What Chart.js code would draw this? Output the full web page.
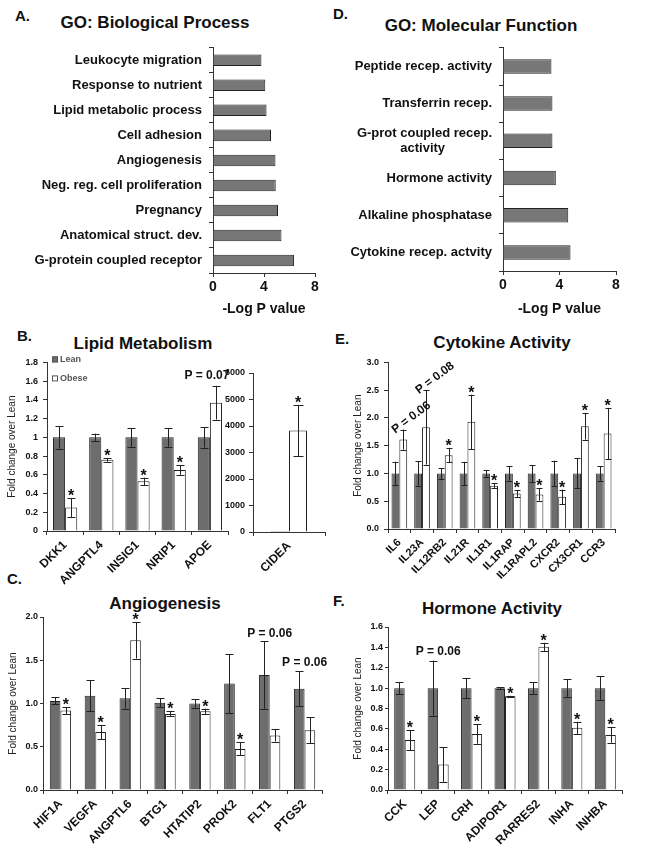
<!DOCTYPE html>
<html>
<head>
<meta charset="utf-8">
<script src="https://cdn.jsdelivr.net/npm/chart.js@4.4.1/dist/chart.umd.min.js"></script>
<style>
    body { margin: 0; background: #fff; width: 652px; height: 853px; position: relative; overflow: hidden;
           font-family: 'Liberation Sans', Arial, sans-serif; }
    canvas { position: absolute; }
    .txt { position: absolute; font-weight: bold; color: #111; white-space: nowrap; line-height: 1;
           transform: translate(-50%, -50%); }
    .tag { position: absolute; font-weight: bold; color: #111; font-size: 15px; line-height: 1; transform: translateY(-50%); }
</style>
</head>
<body>
<div class="tag" style="left:15px;top:15px">A.</div>
<div class="txt" style="left:155px;top:22px;font-size:17px">GO: Biological Process</div>
<div class="tag" style="left:333px;top:13px">D.</div>
<div class="txt" style="left:481px;top:25px;font-size:17px">GO: Molecular Function</div>
<div class="tag" style="left:17px;top:335px">B.</div>
<div class="txt" style="left:143px;top:343px;font-size:17px">Lipid Metabolism</div>
<div class="tag" style="left:335px;top:338px">E.</div>
<div class="txt" style="left:502px;top:342px;font-size:17px">Cytokine Activity</div>
<div class="tag" style="left:7px;top:578px">C.</div>
<div class="txt" style="left:165px;top:603px;font-size:17px">Angiogenesis</div>
<div class="tag" style="left:333px;top:600px">F.</div>
<div class="txt" style="left:492px;top:608px;font-size:17px">Hormone Activity</div>

<canvas id="chartA"></canvas>
<canvas id="chartD"></canvas>
<canvas id="chartC"></canvas>
<canvas id="chartF"></canvas>
<canvas id="chartB"></canvas>
<canvas id="chartB2"></canvas>
<canvas id="chartE"></canvas>

<script>
// ---- data ----
const bpTerms = ['Leukocyte migration', 'Response to nutrient', 'Lipid metabolic process', 'Cell adhesion',
    'Angiogenesis', 'Neg. reg. cell proliferation', 'Pregnancy', 'Anatomical struct. dev.', 'G-protein coupled receptor'];
const bpLogP = [3.8, 4.1, 4.2, 4.55, 4.9, 4.92, 5.1, 5.37, 6.35];

// second line padded so it sits centred under the first
const mfTerms = ['Peptide recep. activity', 'Transferrin recep.', ['G-prot coupled recep.', 'activity             '],
    'Hormone activity', 'Alkaline phosphatase', 'Cytokine recep. actvity'];
const mfLogP = [3.43, 3.5, 3.5, 3.74, 4.62, 4.78];

const lipidGenes = ['DKK1', 'ANGPTL4', 'INSIG1', 'NRIP1', 'APOE'];
const lipidLean = [1, 1, 1, 1, 1];
const lipidLeanErr = [0.12, 0.04, 0.1, 0.1, 0.11];
const lipidObese = [0.25, 0.76, 0.53, 0.65, 1.37];
const lipidObeseErr = [0.1, 0.02, 0.04, 0.05, 0.18];
const lipidStars = [true, true, true, true, false];

const cideaGenes = ['CIDEA'];
const cideaLean = [1];
const cideaLeanErr = [0];
const cideaObese = [3830];
const cideaObeseErr = [970];
const cideaStars = [true];

const cytoGenes = ['IL6', 'IL23A', 'IL12RB2', 'IL21R', 'IL1R1', 'IL1RAP', 'IL1RAPL2', 'CXCR2', 'CX3CR1', 'CCR3'];
const cytoLean = [1, 1, 1, 1, 1, 1, 1, 1, 1, 1];
const cytoLeanErr = [0.21, 0.22, 0.1, 0.21, 0.06, 0.13, 0.15, 0.23, 0.27, 0.13];
const cytoObese = [1.61, 1.83, 1.33, 1.93, 0.78, 0.64, 0.62, 0.58, 1.85, 1.72];
const cytoObeseErr = [0.18, 0.67, 0.13, 0.49, 0.04, 0.06, 0.11, 0.13, 0.24, 0.46];
const cytoStars = [false, false, true, true, true, true, true, true, true, true];

const angioGenes = ['HIF1A', 'VEGFA', 'ANGPTL6', 'BTG1', 'HTATIP2', 'PROK2', 'FLT1', 'PTGS2'];
const angioLean = [1.03, 1.09, 1.06, 1.01, 1.0, 1.23, 1.33, 1.17];
const angioLeanErr = [0.04, 0.18, 0.12, 0.05, 0.05, 0.34, 0.39, 0.2];
const angioObese = [0.92, 0.67, 1.73, 0.88, 0.91, 0.475, 0.63, 0.69];
const angioObeseErr = [0.04, 0.08, 0.21, 0.03, 0.03, 0.075, 0.07, 0.15];
const angioStars = [true, true, true, true, true, true, false, false];

const hormGenes = ['CCK', 'LEP', 'CRH', 'ADIPOR1', 'RARRES2', 'INHA', 'INHBA'];
const hormLean = [1, 1, 1, 1, 1, 1, 1];
const hormLeanErr = [0.06, 0.27, 0.1, 0.01, 0.06, 0.085, 0.115];
const hormObese = [0.49, 0.25, 0.55, 0.92, 1.405, 0.61, 0.54];
const hormObeseErr = [0.1, 0.17, 0.095, 0.005, 0.04, 0.06, 0.075];
const hormStars = [true, false, true, true, true, true, true];

// ---- style ----
const FONT = "'Liberation Sans', Arial, sans-serif";
const LEAN = '#6d6d6d';
const GO_FILL = '#777777';
const EDGE = '#222';
const AXIS = '#333';

Chart.defaults.font.family = FONT;
Chart.defaults.color = '#111';

// error bars + significance stars, drawn from each dataset's values
const errorBars = {
    id: 'errorBars',
    afterDatasetsDraw(chart, args, opts) {
        const ctx = chart.ctx;
        const y = chart.scales.y;
        const cap = opts.cap || 4;
        chart.data.datasets.forEach((ds, i) => {
            const meta = chart.getDatasetMeta(i);
            meta.data.forEach((bar, j) => {
                const e = ds.errors ? ds.errors[j] : 0;
                const v = ds.data[j];
                const top = y.getPixelForValue(v + e);
                if (e) {
                    const bot = y.getPixelForValue(v - e);
                    ctx.save();
                    ctx.strokeStyle = EDGE;
                    ctx.lineWidth = 1;
                    ctx.beginPath();
                    const x = Math.round(bar.x) + 0.5;
                    ctx.moveTo(x, top); ctx.lineTo(x, bot);
                    ctx.moveTo(x - cap, Math.round(top) + 0.5); ctx.lineTo(x + cap, Math.round(top) + 0.5);
                    ctx.moveTo(x - cap, Math.round(bot) + 0.5); ctx.lineTo(x + cap, Math.round(bot) + 0.5);
                    ctx.stroke();
                    ctx.restore();
                }
                if (ds.stars && ds.stars[j]) {
                    ctx.save();
                    ctx.fillStyle = '#111';
                    ctx.font = 'bold 16px ' + FONT;
                    ctx.textAlign = 'center';
                    ctx.textBaseline = 'alphabetic';
                    ctx.fillText('*', bar.x, top + 3);
                    ctx.restore();
                }
            });
        });
    }
};

// "P = ..." notes anchored on a bar's error top
const notes = {
    id: 'notes',
    afterDatasetsDraw(chart, args, opts) {
        const ctx = chart.ctx;
        (opts.items || []).forEach(n => {
            const ds = chart.data.datasets[n.ds];
            const bar = chart.getDatasetMeta(n.ds).data[n.i];
            const top = chart.scales.y.getPixelForValue(ds.data[n.i] + ds.errors[n.i]);
            const x = n.center ? chart.scales.x.getPixelForValue(n.i) : bar.x;
            ctx.save();
            ctx.translate(x + (n.dx || 0), top + (n.dy || 0));
            ctx.rotate((n.rot || 0) * Math.PI / 180);
            ctx.font = 'bold 12px ' + FONT;
            ctx.fillStyle = '#111';
            ctx.textAlign = 'center';
            ctx.textBaseline = n.rot ? 'middle' : 'alphabetic';
            ctx.fillText(n.text, 0, 0);
            ctx.restore();
        });
    }
};

// small stacked legend inside panel B
const boxLegend = {
    id: 'boxLegend',
    afterDraw(chart, args, opts) {
        if (!opts.show) return;
        const { ctx, chartArea } = chart;
        chart.data.datasets.forEach((ds, i) => {
            const x = chartArea.left + 5, yy = chartArea.top - 3 + i * 19;
            ctx.save();
            ctx.fillStyle = ds.backgroundColor;
            ctx.fillRect(x, yy - 3, 6, 6);
            ctx.strokeStyle = '#555';
            ctx.strokeRect(x + 0.5, yy - 2.5, 5, 5);
            ctx.fillStyle = '#555';
            ctx.font = 'bold 9px ' + FONT;
            ctx.textBaseline = 'middle';
            ctx.fillText(ds.label, x + 8, yy);
            ctx.restore();
        });
    }
};

function place(id, area, m) {
    const c = document.getElementById(id);
    c.width = area[2] - area[0] + m.l + m.r;
    c.height = area[3] - area[1] + m.t + m.b;
    c.style.left = (area[0] - m.l) + 'px';
    c.style.top = (area[1] - m.t) + 'px';
    return c;
}

function goChart(id, area, m, labels, values, bp) {
    return new Chart(place(id, area, m), {
        type: 'bar',
        data: { labels: labels, datasets: [{ data: values, backgroundColor: GO_FILL, borderColor: EDGE, borderWidth: 1 }] },
        options: {
            indexAxis: 'y', responsive: false, animation: false,
            layout: { padding: { left: 0, top: m.t, right: m.r, bottom: 0 } },
            datasets: { bar: { categoryPercentage: 1, barPercentage: bp } },
            scales: {
                y: {
                    grid: { offset: true, drawOnChartArea: false, tickLength: 4, color: AXIS },
                    border: { color: AXIS },
                    ticks: { font: { size: 13, weight: 'bold' }, color: '#111', padding: 7 },
                    afterFit: s => { s.width = m.l; }
                },
                x: {
                    min: 0, max: 8,
                    ticks: { stepSize: 4, font: { size: 14, weight: 'bold' }, color: '#111', padding: 2 },
                    grid: { drawOnChartArea: false, tickLength: 4, color: AXIS },
                    border: { color: AXIS },
                    title: { display: true, text: '-Log P value', font: { size: 14, weight: 'bold' }, padding: 0, color: '#111' },
                    afterFit: s => { s.height = m.b; }
                }
            },
            plugins: { legend: { display: false }, tooltip: { enabled: false } }
        }
    });
}

function foldChart(id, area, m, cfg) {
    return new Chart(place(id, area, m), {
        type: 'bar',
        data: {
            labels: cfg.labels,
            datasets: [
                { label: 'Lean', data: cfg.lean, errors: cfg.leanErr, backgroundColor: LEAN, borderColor: EDGE, borderWidth: 1 },
                { label: 'Obese', data: cfg.obese, errors: cfg.obeseErr, stars: cfg.stars, backgroundColor: '#ffffff', borderColor: EDGE, borderWidth: 1 }
            ]
        },
        options: {
            responsive: false, animation: false,
            layout: { padding: { left: 0, top: m.t, right: m.r, bottom: 0 } },
            datasets: { bar: { categoryPercentage: cfg.cp, barPercentage: 1 } },
            scales: {
                x: {
                    grid: { offset: true, drawOnChartArea: false, tickLength: 4, color: AXIS },
                    border: { color: AXIS },
                    ticks: { autoSkip: false, minRotation: 45, maxRotation: 45, padding: 3,
                             font: { size: cfg.labelSize || 12, weight: 'bold' }, color: '#111' },
                    afterFit: s => { s.height = m.b; }
                },
                y: {
                    min: 0, max: cfg.max,
                    ticks: { stepSize: cfg.step, padding: cfg.tickPad, font: { size: 9, weight: 'bold' }, color: '#111', callback: cfg.fmt },
                    grid: { drawOnChartArea: false, tickLength: cfg.tickLen || 4, color: AXIS },
                    border: { color: AXIS },
                    title: { display: !!cfg.yTitle, text: 'Fold change over Lean', font: { size: 10 }, color: '#222', padding: cfg.titlePad || 0 },
                    afterFit: s => { s.width = m.l; }
                }
            },
            plugins: {
                legend: { display: false }, tooltip: { enabled: false },
                errorBars: { cap: cfg.cap },
                notes: { items: cfg.notes || [] },
                boxLegend: { show: !!cfg.legend }
            }
        },
        plugins: [errorBars, notes, boxLegend]
    });
}

const oneDec = v => v.toFixed(1);
const plain = v => String(+v.toFixed(1));

goChart('chartA', [213, 39, 315, 273], { l: 213, r: 12, t: 6, b: 45 }, bpTerms, bpLogP, 0.46);
goChart('chartD', [503, 39, 616, 271], { l: 173, r: 14, t: 6, b: 47 }, mfTerms, mfLogP, 0.39);

foldChart('chartB', [47, 360, 228, 531], { l: 47, r: 6, t: 8, b: 56 }, {
    labels: lipidGenes, lean: lipidLean, leanErr: lipidLeanErr, obese: lipidObese, obeseErr: lipidObeseErr,
    stars: lipidStars, cp: 0.67, max: 1.8, step: 0.2, fmt: plain, tickPad: 5, cap: 4, yTitle: true, titlePad: 6,
    legend: true, notes: [{ i: 4, ds: 1, text: 'P = 0.07', center: true, dx: -3, dy: -7 }]
});

foldChart('chartB2', [253, 373, 325, 532], { l: 30, r: 6, t: 30, b: 56 }, {
    labels: cideaGenes, lean: cideaLean, leanErr: cideaLeanErr, obese: cideaObese, obeseErr: cideaObeseErr,
    stars: cideaStars, cp: 0.5, max: 6000, step: 1000, fmt: v => String(v), tickPad: 4, cap: 5
});

foldChart('chartE', [388, 362, 615, 529], { l: 48, r: 6, t: 10, b: 58 }, {
    labels: cytoGenes, lean: cytoLean, leanErr: cytoLeanErr, obese: cytoObese, obeseErr: cytoObeseErr,
    stars: cytoStars, cp: 0.69, max: 3, step: 0.5, fmt: oneDec, tickPad: 5, cap: 3, yTitle: true, titlePad: 12,
    labelSize: 11,
    notes: [
        { i: 0, ds: 1, text: 'P = 0.06', dx: 8, dy: -12, rot: -37 },
        { i: 1, ds: 1, text: 'P = 0.08', dx: 9, dy: -12, rot: -37 }
    ]
});

foldChart('chartC', [43, 617, 322, 790], { l: 43, r: 10, t: 10, b: 60 }, {
    labels: angioGenes, lean: angioLean, leanErr: angioLeanErr, obese: angioObese, obeseErr: angioObeseErr,
    stars: angioStars, cp: 0.61, max: 2, step: 0.5, fmt: oneDec, tickPad: 2, tickLen: 3, cap: 4, yTitle: true, titlePad: 7,
    notes: [
        { i: 6, ds: 0, text: 'P = 0.06', center: true, dy: -4 },
        { i: 7, ds: 0, text: 'P = 0.06', center: true, dy: -5 }
    ]
});

foldChart('chartF', [388, 627, 622, 790], { l: 48, r: 8, t: 10, b: 60 }, {
    labels: hormGenes, lean: hormLean, leanErr: hormLeanErr, obese: hormObese, obeseErr: hormObeseErr,
    stars: hormStars, cp: 0.63, max: 1.6, step: 0.2, fmt: oneDec, tickPad: 2, tickLen: 3, cap: 4, yTitle: true, titlePad: 12,
    notes: [{ i: 1, ds: 0, text: 'P = 0.06', center: true, dy: -6 }]
});
</script>
</body>
</html>
